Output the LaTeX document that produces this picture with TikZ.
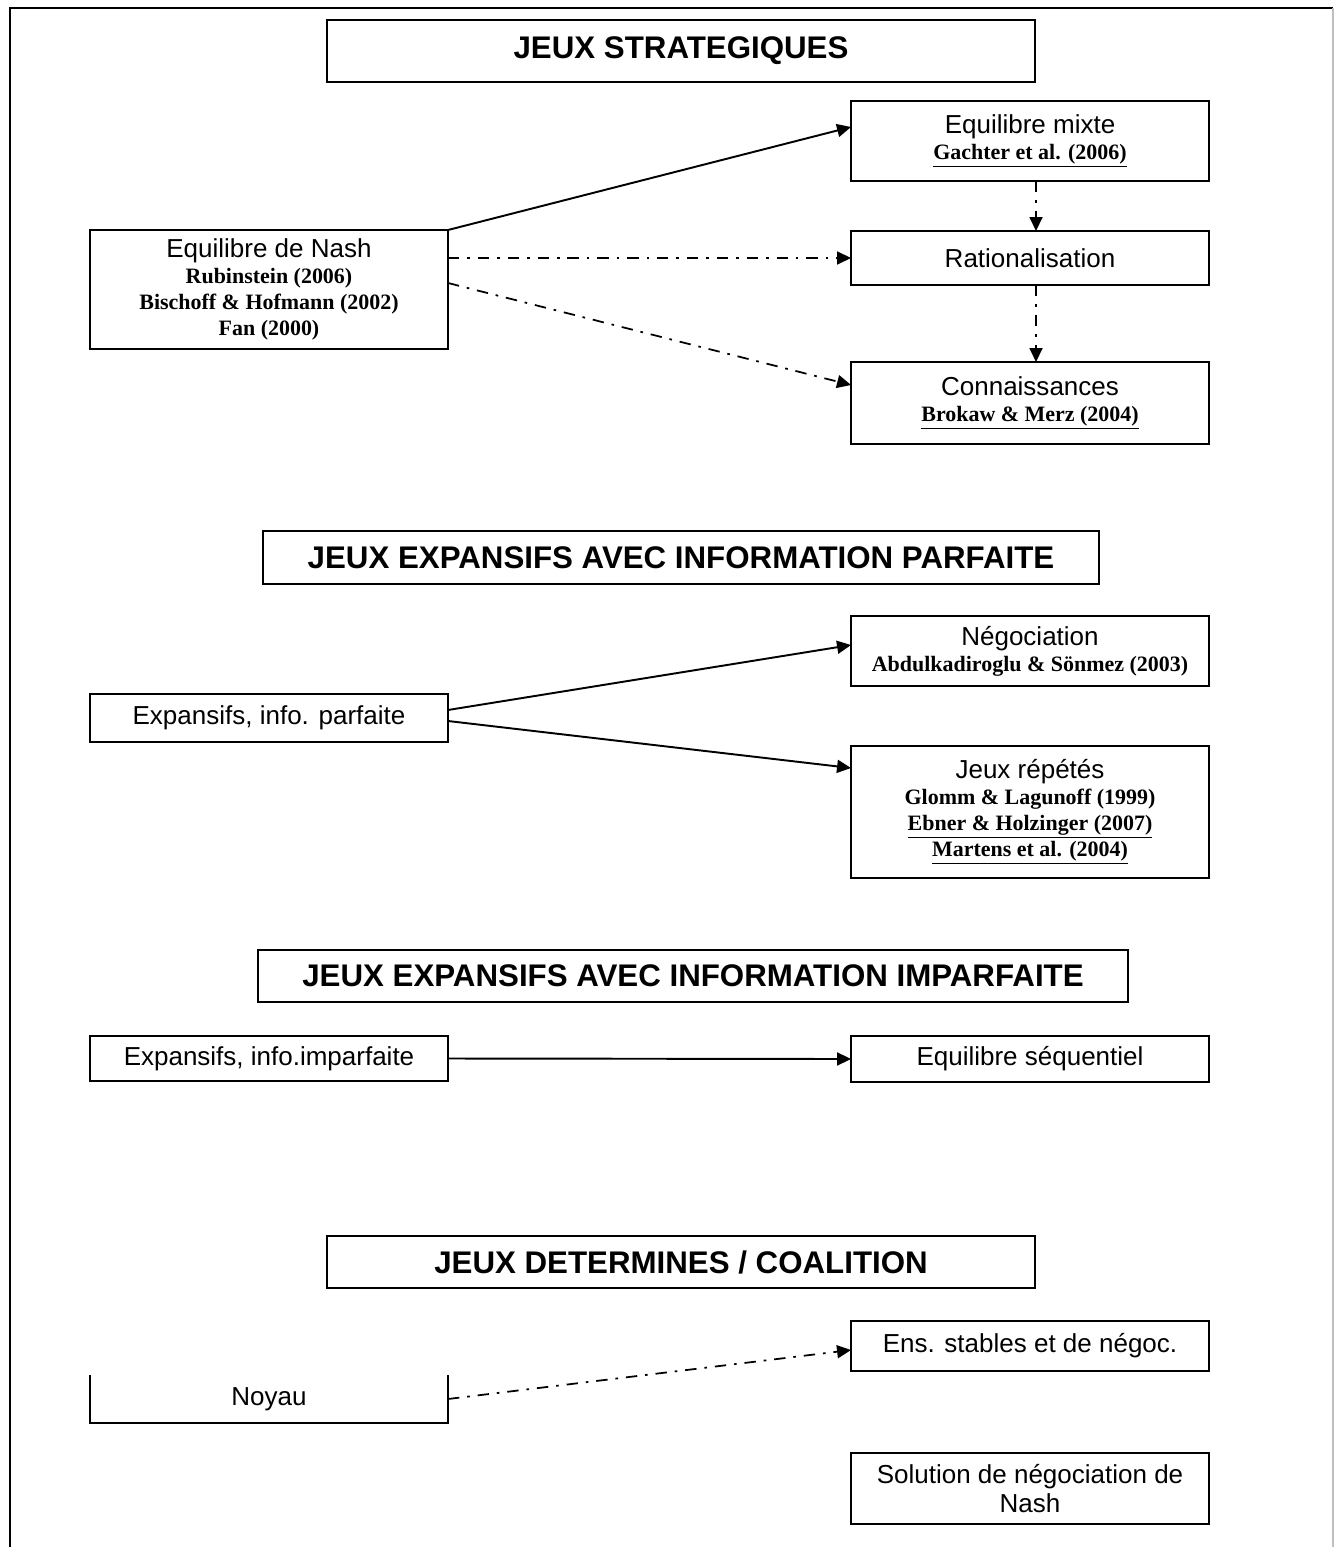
\documentclass[tikz,border=0pt]{standalone}
\usepackage{fontspec}
\usepackage{tikz}
\usetikzlibrary{arrows.meta}
\newfontfamily\boitefont{Liberation Sans}
\newfontfamily\autfont{Liberation Serif}
\newcommand{\aut}[1]{{\autfont\bfseries\fontsize{12.5}{14.7}\selectfont #1}}
\begin{document}
\begin{tikzpicture}[x=0.02cm, y=-0.02cm,
  boite/.style={draw, line width=1.1pt, minimum width=7.16cm, outer sep=0pt, align=center, font=\boitefont\fontsize{14.8}{14.7}\selectfont},
  titre/.style={draw, line width=1.1pt, outer sep=0pt, font=\boitefont\bfseries\fontsize{17.8}{20}\selectfont},
  fleche/.style={-{Triangle[length=0.28cm,width=0.26cm]}, line width=1.1pt},
  tiretpoint/.style={fleche, line width=1pt, dash pattern=on 6.5pt off 4.5pt on 1.5pt off 4.5pt}]
  \useasboundingbox (0,0) rectangle (1335,1547);
  \draw[line width=1.7pt] (10,1547) -- (10,8) -- (1333,8);
  \draw[black!25, line width=0.8pt] (1333,8) -- (1333,1547);

  \node[titre, minimum width=14.16cm, minimum height=1.24cm] (strat) at (681,51) {JEUX STRATEGIQUES};
  \node[boite, minimum height=2.38cm] (nash) at (269,289.5) {Equilibre de Nash\\ \aut{Rubinstein (2006)}\\ \aut{Bischoff \& Hofmann (2002)}\\ \aut{Fan (2000)}};
  \node[boite, minimum height=1.6cm] (mixte) at (1030,141) {Equilibre mixte\\ \aut{\underline{Gachter et al. (2006)}}};
  \node[boite, minimum height=1.08cm] (ratio) at (1030,258) {Rationalisation};
  \node[boite, minimum height=1.64cm] (conn) at (1030,403) {Connaissances\\ \aut{\underline{Brokaw \& Merz (2004)}}};
  \draw[fleche] (nash.north east) -- ([yshift=0.28cm]mixte.west);
  \draw[tiretpoint] (nash.east |- ratio.west) -- (ratio.west);
  \draw[tiretpoint] ([yshift=0.13cm]nash.east) -- ([yshift=0.36cm]conn.west);
  \draw[tiretpoint] ([xshift=0.12cm]mixte.south) -- ([xshift=0.12cm]ratio.north);
  \draw[tiretpoint] ([xshift=0.12cm]ratio.south) -- ([xshift=0.12cm]conn.north);

  \node[titre, minimum width=16.72cm, minimum height=1.06cm] (parf) at (681,557.5) {JEUX EXPANSIFS AVEC INFORMATION PARFAITE};
  \node[boite, minimum height=0.96cm] (exparf) at (269,718) {Expansifs, info. parfaite};
  \node[boite, minimum height=1.4cm] (nego) at (1030,651) {Négociation\\ \aut{Abdulkadiroglu \& Sönmez (2003)}};
  \node[boite, minimum height=2.64cm] (repet) at (1030,812) {Jeux répétés\\ \aut{Glomm \& Lagunoff (1999)}\\ \aut{\underline{Ebner \& Holzinger (2007)}}\\ \aut{\underline{Martens et al. (2004)}}};
  \draw[fleche] ([yshift=0.16cm]exparf.east) -- ([yshift=0.12cm]nego.west);
  \draw[fleche] ([yshift=-0.06cm]exparf.east) -- ([yshift=0.88cm]repet.west);

  \node[titre, minimum width=17.4cm, minimum height=1.04cm] (imparf) at (693,976) {JEUX EXPANSIFS AVEC INFORMATION IMPARFAITE};
  \node[boite, minimum height=0.9cm] (eximp) at (269,1058.5) {Expansifs, info.imparfaite};
  \node[boite, minimum height=0.92cm] (seq) at (1030,1059) {Equilibre séquentiel};
  \draw[fleche] (eximp.east) -- (seq.west);

  \node[titre, minimum width=14.16cm, minimum height=1.04cm] (coal) at (681,1262) {JEUX DETERMINES / COALITION};
  \node[boite, draw=none, minimum height=0.96cm] (noyau) at (269,1399) {Noyau};
  \draw[line width=1.1pt] (noyau.north west) -- (noyau.south west) -- (noyau.south east) -- (noyau.north east);
  \node[boite, minimum height=1.0cm] (ens) at (1030,1346) {Ens. stables et de négoc.};
  \node[boite, minimum height=1.42cm, font=\boitefont\fontsize{14.8}{16}\selectfont] (sol) at (1030,1488.5) {Solution de négociation de\\ Nash};
  \draw[tiretpoint] (noyau.east) -- ([yshift=-0.08cm]ens.west);
\end{tikzpicture}
\end{document}
